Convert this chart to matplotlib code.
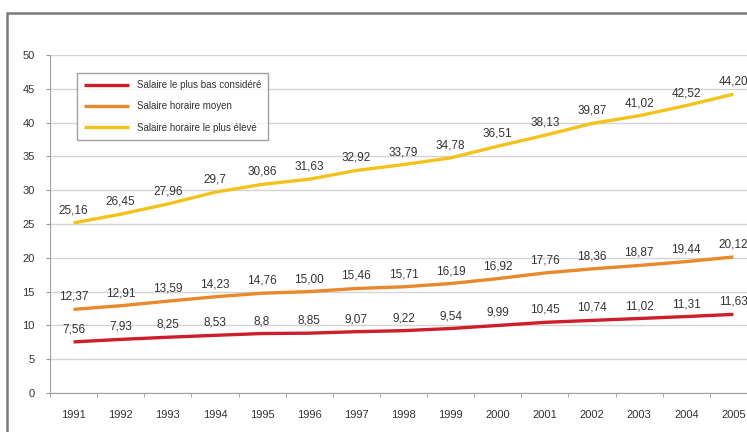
import numpy as np
import matplotlib
matplotlib.use("Agg")
import matplotlib.pyplot as plt
from matplotlib.patches import Rectangle

years = [str(y) for y in range(1991, 2006)]

bas = [7.56, 7.93, 8.25, 8.53, 8.8, 8.85, 9.07, 9.22, 9.54, 9.99, 10.45, 10.74, 11.02, 11.31, 11.63]
bas_lbl = ["7,56", "7,93", "8,25", "8,53", "8,8", "8,85", "9,07", "9,22", "9,54", "9,99",
           "10,45", "10,74", "11,02", "11,31", "11,63"]

moyen = [12.37, 12.91, 13.59, 14.23, 14.76, 15.00, 15.46, 15.71, 16.19, 16.92, 17.76, 18.36, 18.87, 19.44, 20.12]
moyen_lbl = ["12,37", "12,91", "13,59", "14,23", "14,76", "15,00", "15,46", "15,71", "16,19", "16,92",
             "17,76", "18,36", "18,87", "19,44", "20,12"]

eleve = [25.16, 26.45, 27.96, 29.7, 30.86, 31.63, 32.92, 33.79, 34.78, 36.51, 38.13, 39.87, 41.02, 42.52, 44.20]
eleve_lbl = ["25,16", "26,45", "27,96", "29,7", "30,86", "31,63", "32,92", "33,79", "34,78", "36,51",
             "38,13", "39,87", "41,02", "42,52", "44,20"]

names = ["Salaire le plus bas considéré", "Salaire horaire moyen", "Salaire horaire le plus élevé"]
colors = ["#cc1f2b", "#e8892c", "#f3c31c"]

plt.rcParams['font.family'] = ['Liberation Sans Narrow', 'Liberation Sans', 'DejaVu Sans']
txt = "#333333"

W, H = 747, 432
fig = plt.figure(figsize=(W / 100, H / 100), dpi=100)
fig.patch.set_facecolor("white")

# outer frame of the original figure (cropped on the right and bottom)
fig.add_artist(Rectangle((7 / W, -0.05), 1.0, 1 - 13 / H + 0.05, transform=fig.transFigure,
                         fill=False, edgecolor="#7a7a7a", linewidth=1.8))

ax = fig.add_axes([50 / W, 39 / H, 707 / W, 338 / H])
x = np.arange(len(years))

for vals, lbls, c, n in zip([bas, moyen, eleve], [bas_lbl, moyen_lbl, eleve_lbl], colors, names):
    ax.plot(x, vals, color=c, linewidth=2.4, label=n, solid_capstyle="butt")
    for xi, v, s in zip(x, vals, lbls):
        ax.annotate(s, (xi, v), xytext=(0, 9), textcoords="offset points",
                    ha="center", va="center", fontsize=8.5, color=txt, annotation_clip=False)

ax.set_xlim(-0.5, len(years) - 0.5)
ax.set_ylim(0, 50)
ax.set_yticks(range(0, 51, 5))
ax.set_xticks(x)
ax.set_xticklabels(years)
ax.set_xticks(np.arange(-0.5, len(years), 1), minor=True)
ax.tick_params(axis="x", which="major", length=0, pad=12, labelsize=8, labelcolor=txt)
ax.tick_params(axis="x", which="minor", length=3, color="#999999", direction="out")
ax.tick_params(axis="y", length=3, color="#999999", pad=8, labelsize=8, labelcolor=txt)

ax.grid(axis="y", color="#d4d4d4", linewidth=1.0)
ax.set_axisbelow(True)
for s in ["top", "right"]:
    ax.spines[s].set_visible(False)
ax.spines["left"].set_color("#a0a0a0")
ax.spines["bottom"].set_color("#a0a0a0")

leg = ax.legend(loc="upper left", bbox_to_anchor=(24 / 707, (393 - 70) / 338), fontsize=7,
                frameon=True, fancybox=False, edgecolor="#888888", handlelength=4.6,
                borderpad=0.75, labelspacing=1.15, handletextpad=0.8, borderaxespad=0.3)
leg.get_frame().set_linewidth(1.0)
for t in leg.get_texts():
    t.set_color(txt)

fig.savefig("out.png", dpi=100)
